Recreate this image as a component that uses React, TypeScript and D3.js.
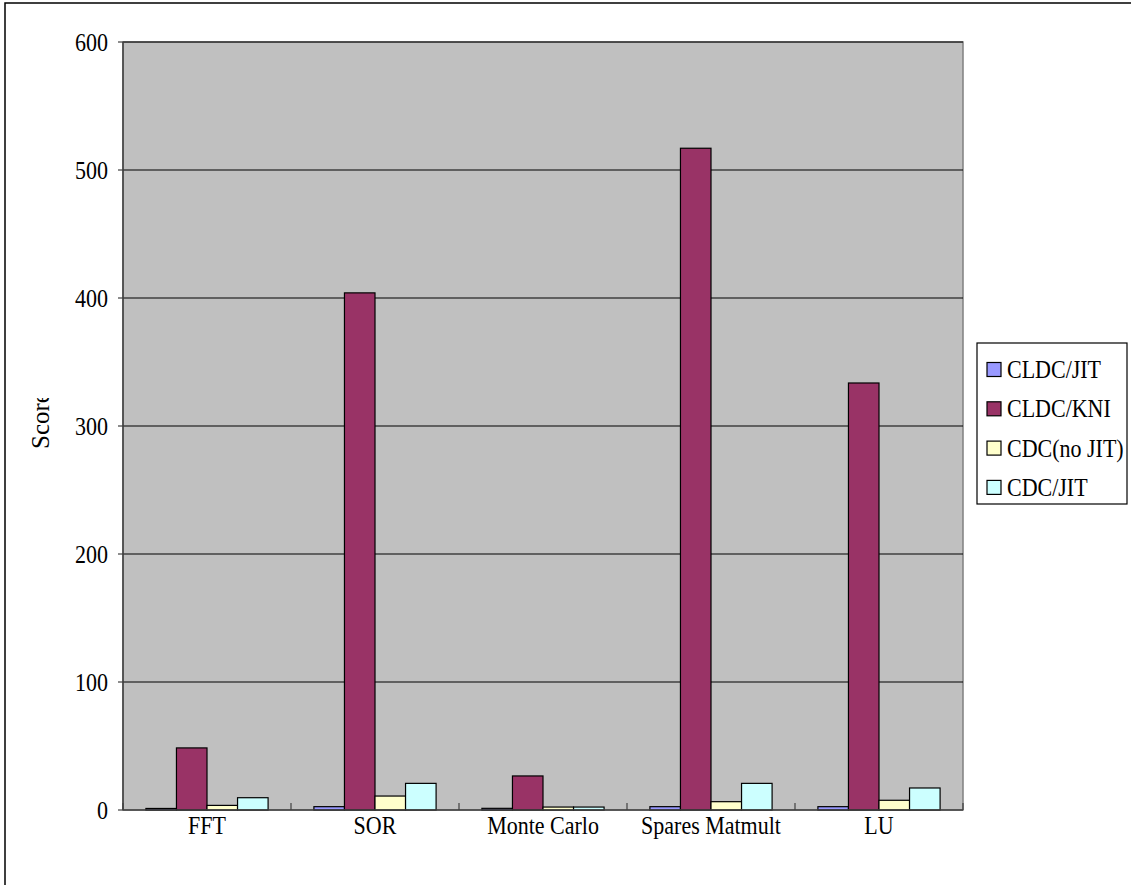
import React from "react";
import * as d3 from "d3";

const categories = ["FFT", "SOR", "Monte Carlo", "Spares Matmult", "LU"];
const seriesNames = ["CLDC/JIT", "CLDC/KNI", "CDC(no JIT)", "CDC/JIT"];
const cldcJit = [1.2, 2.6, 1.3, 2.6, 2.6];
const cldcKni = [48.5, 404, 26.6, 517, 333.6];
const cdcNoJit = [3.6, 10.9, 2.3, 6.5, 7.6];
const cdcJit = [9.6, 20.8, 2.3, 20.8, 17.2];
const yTicks = [0, 100, 200, 300, 400, 500, 600];
const seriesColors = ["#9999FF", "#993366", "#FFFFCC", "#CCFFFF"];

const seriesValues = [cldcJit, cldcKni, cdcNoJit, cdcJit];

const W = 1131;
const H = 885;
const plot = { left: 123, top: 42, right: 963, bottom: 810 };
const FONT = "'Liberation Serif', 'Times New Roman', serif";
const SX = 0.88;

function Label(props: {
  x: number;
  y: number;
  text: string;
  anchor?: "start" | "middle" | "end";
  size?: number;
}) {
  const { x, y, text, anchor = "start", size = 25 } = props;
  return (
    <text
      transform={`translate(${x},${y}) scale(${SX},1)`}
      textAnchor={anchor}
      fontFamily={FONT}
      fontSize={size}
      fill="#000"
    >
      {text}
    </text>
  );
}

export default function App() {
  const x0 = d3
    .scaleBand<string>()
    .domain(categories)
    .range([plot.left, plot.right])
    .paddingInner(0)
    .paddingOuter(0);
  const groupW = x0.bandwidth();
  // bar width with a 150% gap between groups
  const barW = groupW / (seriesNames.length + 1.5);
  const gap = (groupW - barW * seriesNames.length) / 2;
  const y = d3.scaleLinear().domain([0, 600]).range([plot.bottom, plot.top]);

  const legend = { x: 977, y: 343, w: 150, h: 161 };

  return (
    <svg
      width={W}
      height={H}
      style={{ position: "absolute", left: 0, top: 0, background: "#fff" }}
    >
      <defs>
        <clipPath id="ylabel-clip">
          <rect x={0} y={398} width={110} height={200} />
        </clipPath>
      </defs>
      {/* chart area frame */}
      <rect x={5} y={3} width={W + 10} height={H + 10} fill="#fff" stroke="#000" strokeWidth={1.5} />

      {/* plot area */}
      <rect
        x={plot.left}
        y={plot.top}
        width={plot.right - plot.left}
        height={plot.bottom - plot.top}
        fill="#C0C0C0"
        stroke="#808080"
        strokeWidth={1.5}
      />

      {/* gridlines */}
      {yTicks.slice(1).map((t) => (
        <line
          key={`g${t}`}
          x1={plot.left}
          x2={plot.right}
          y1={y(t)}
          y2={y(t)}
          stroke="#000"
          strokeWidth={1}
        />
      ))}

      {/* bars */}
      {categories.map((c, ci) => (
        <g key={c}>
          {seriesValues.map((vals, si) => {
            const bx = (x0(c) as number) + gap + si * barW;
            const by = y(vals[ci]);
            return (
              <rect
                key={si}
                x={bx}
                y={by}
                width={barW}
                height={plot.bottom - by}
                fill={seriesColors[si]}
                stroke="#000"
                strokeWidth={1.2}
              />
            );
          })}
        </g>
      ))}

      {/* axes */}
      <line x1={plot.left} x2={plot.left} y1={plot.top} y2={plot.bottom} stroke="#404040" strokeWidth={1.5} />
      <line x1={plot.left} x2={plot.right} y1={plot.bottom} y2={plot.bottom} stroke="#404040" strokeWidth={1.5} />
      {yTicks.map((t) => (
        <line key={`yt${t}`} x1={plot.left - 5} x2={plot.left} y1={y(t)} y2={y(t)} stroke="#404040" strokeWidth={1.2} />
      ))}
      {categories.map((c) => (
        <line
          key={`xt${c}`}
          x1={x0(c) as number}
          x2={x0(c) as number}
          y1={plot.bottom}
          y2={plot.bottom - 7}
          stroke="#404040"
          strokeWidth={1.2}
        />
      ))}
      <line x1={plot.right} x2={plot.right} y1={plot.bottom} y2={plot.bottom - 7} stroke="#404040" strokeWidth={1.2} />

      {/* y tick labels */}
      {yTicks.map((t) => (
        <Label key={`yl${t}`} x={108} y={y(t) + 9} text={String(t)} anchor="end" />
      ))}

      {/* category labels */}
      {categories.map((c) => (
        <Label key={`cl${c}`} x={(x0(c) as number) + groupW / 2} y={834} text={c} anchor="middle" />
      ))}

      {/* y axis title, clipped at the top edge of its box */}
      <g clipPath="url(#ylabel-clip)">
        <text
          transform="translate(49,449) rotate(-90)"
          fontFamily={FONT}
          fontSize={25}
          fill="#000"
        >
          Score
        </text>
      </g>

      {/* legend */}
      <rect x={legend.x} y={legend.y} width={legend.w} height={legend.h} fill="#fff" stroke="#000" strokeWidth={1.2} />
      {seriesNames.map((name, i) => {
        const cy = 370 + i * 39.3;
        return (
          <g key={name}>
            <rect x={987} y={cy - 7.5} width={14} height={14} fill={seriesColors[i]} stroke="#000" strokeWidth={1.2} />
            <Label x={1007} y={cy + 8} text={name} />
          </g>
        );
      })}
    </svg>
  );
}
